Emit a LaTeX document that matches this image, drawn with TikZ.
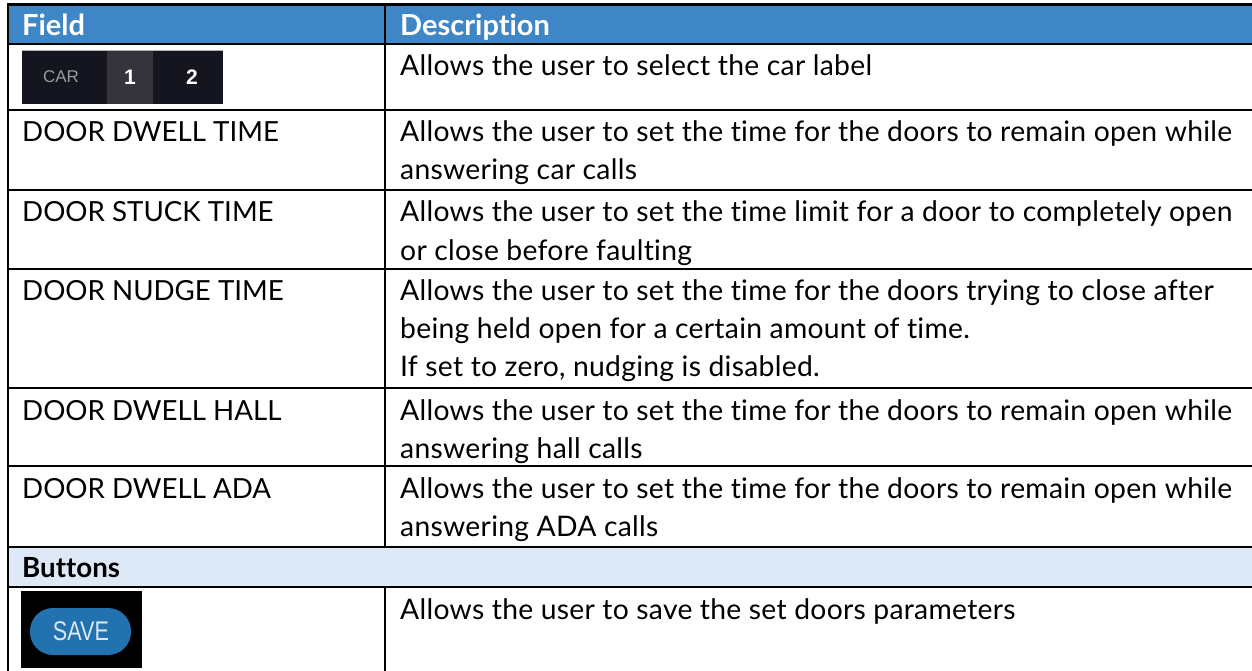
\documentclass[tikz,border=0pt]{standalone}
\usepackage{fontspec}
\setmainfont{Lato}[Ligatures={NoCommon}]
\newfontfamily\uifont{Liberation Sans}
\newfontfamily\uinarrow{Liberation Sans}[FakeStretch=0.8]
\definecolor{hdrblue}{HTML}{3F86C6}
\definecolor{bandblue}{HTML}{DDE9F6}
\definecolor{cardark}{HTML}{15151F}
\definecolor{carmid}{HTML}{35343D}
\definecolor{cartxt}{HTML}{9A9AA2}
\definecolor{savebg}{HTML}{2272B0}
\definecolor{savetxt}{HTML}{DCE7F1}
\begin{document}
\begin{tikzpicture}[x=1pt,y=-1pt,
  grid/.style={line width=2.5pt,black},
  fieldtxt/.style={anchor=base west,inner sep=0pt,font=\fontsize{27.7}{30}\selectfont},
  body/.style={anchor=base west,inner sep=0pt,font=\fontsize{28.3}{30}\selectfont\addfontfeature{LetterSpace=1.0}},
  hdr/.style={anchor=base west,inner sep=0pt,text=white,font=\fontsize{29}{30}\selectfont\bfseries},
  band/.style={anchor=base west,inner sep=0pt,font=\fontsize{27.7}{30}\selectfont\bfseries}]
\useasboundingbox (0,0) rectangle (1252,671);
\fill[white] (0,0) rectangle (1252,671);
% fills
\fill[hdrblue] (8,5) rectangle (1252,44);
\fill[bandblue] (8,547) rectangle (1252,587);
% CAR widget
\fill[cardark] (22,50) rectangle (223,104);
\fill[carmid] (107,50) rectangle (153,104);
\draw[gray!60,line width=1pt] (22,50.5) -- (223,50.5);
\node[inner sep=0pt,text=cartxt,font=\uifont\fontsize{17}{20}\selectfont] (car) at (61,77) {CAR};
\node[inner sep=0pt,text=white,font=\uifont\fontsize{21}{22}\selectfont\bfseries] (one) at (130,77) {1};
\node[inner sep=0pt,text=white,font=\uifont\fontsize{21}{22}\selectfont\bfseries] (two) at (192,77) {2};
% SAVE widget
\fill[black] (21,591) rectangle (142,668);
\fill[savebg,rounded corners=23pt] (30,608) rectangle (131,655);
\node[inner sep=0pt,text=savetxt,font=\uinarrow\fontsize{27}{28}\selectfont] (save) at (81,631) {SAVE};
% header
\node[hdr] (hfield) at (22,36) {Field};
\node[hdr] (hdesc) at (400,36) {Description};
% rows
\node[body] (d1) at (400,76) {Allows the user to select the car label};
\node[fieldtxt] (f2) at (22,142) {DOOR DWELL TIME};
\node[body] (d2a) at (400,142) {Allows the user to set the time for the doors to remain open while};
\node[body] (d2b) at (400,180) {answering car calls};
\node[fieldtxt] (f3) at (22,222) {DOOR STUCK TIME};
\node[body] (d3a) at (400,222) {Allows the user to set the time limit for a door to completely open};
\node[body] (d3b) at (400,260) {or close before faulting};
\node[fieldtxt] (f4) at (22,300) {DOOR NUDGE TIME};
\node[body] (d4a) at (400,300) {Allows the user to set the time for the doors trying to close after};
\node[body] (d4b) at (400,338) {being held open for a certain amount of time.};
\node[body] (d4c) at (400,376) {If set to zero, nudging is disabled.};
\node[fieldtxt] (f5) at (22,420) {DOOR DWELL HALL};
\node[body] (d5a) at (400,420) {Allows the user to set the time for the doors to remain open while};
\node[body] (d5b) at (400,458) {answering hall calls};
\node[fieldtxt] (f6) at (22,498) {DOOR DWELL ADA};
\node[body] (d6a) at (400,498) {Allows the user to set the time for the doors to remain open while};
\node[body] (d6b) at (400,536) {answering ADA calls};
\node[band] (bbtn) at (22,577) {Buttons};
\node[body] (d7) at (400,619) {Allows the user to save the set doors parameters};
% grid
\draw[grid,line width=3pt] (6.75,5) -- (1252,5);
\foreach \yy in {44,110,190,269,388,466,547,587} \draw[grid] (6.75,\yy) -- (1252,\yy);
\draw[grid] (8,3.5) -- (8,671);
\draw[grid] (385,5) -- (385,547);
\draw[grid] (385,587) -- (385,671);
\end{tikzpicture}
\end{document}
